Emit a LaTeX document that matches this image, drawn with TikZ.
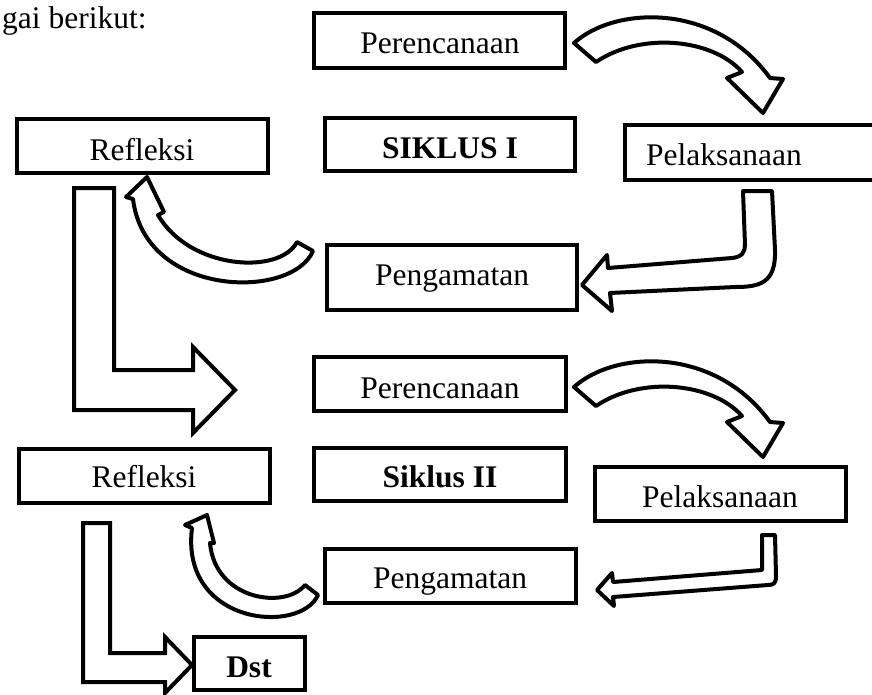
\documentclass[tikz,border=0pt]{standalone}
\usepackage{fontspec}
\setmainfont{Liberation Serif}
\begin{document}
\begin{tikzpicture}[x=1pt,y=-1pt,
  box/.style={draw, line width=4pt, rectangle, inner sep=0pt, outer sep=0pt},
  txt/.style={font=\fontsize{31.5}{36}\selectfont, inner sep=0pt, anchor=base},
  btxt/.style={txt, font=\fontsize{31.5}{36}\selectfont\bfseries},
  blockarrow/.style={draw, line width=4pt, fill=white, line join=round},
  sharparrow/.style={draw, line width=4pt, fill=white, line join=miter}]
\clip (0,0) rectangle (872,694);
\fill[white] (0,0) rectangle (872,694);

% header text
\node[txt, anchor=base west] (head) at (2,28) {gai berikut:};

% ---- block arrows (drawn first, boxes on top) ----
% Perencanaan I -> Pelaksanaan I
\path[blockarrow] (574,43) .. controls (615,6) and (715,2) .. (770,78) -- (783,79) -- (763,113)
  -- (727,78) -- (742,72) .. controls (712,38) and (640,32) .. (596,62) -- cycle;
% Pelaksanaan I -> Pengamatan I
\path[blockarrow] (743,191) -- (772,191) -- (775,250) .. controls (776,283) and (760,287) .. (735,287)
  -- (610,293) -- (612,311) -- (582,285) -- (607,255) -- (608,268) -- (732,258)
  .. controls (742,257) and (745,252) .. (745,245) -- cycle;
% Pengamatan I -> Refleksi I
\path[blockarrow] (297,242) -- (313,251) .. controls (292,300) and (145,298) .. (133,199)
  -- (126,197) -- (147,177) -- (164,212) -- (158,215) .. controls (190,270) and (280,275) .. (297,242) -- cycle;
% Refleksi I -> Perencanaan II
\path[sharparrow] (74,188) -- (114,188) -- (114,370) -- (193,370) -- (193,347) -- (235,390)
  -- (193,433) -- (193,410) -- (74,410) -- cycle;
% Perencanaan II -> Pelaksanaan II
\begin{scope}[shift={(0,344)}]
\path[blockarrow] (574,43) .. controls (615,6) and (715,2) .. (770,78) -- (783,79) -- (763,113)
  -- (727,78) -- (742,72) .. controls (712,38) and (640,32) .. (596,62) -- cycle;
\end{scope}
% Pelaksanaan II -> Pengamatan II
\path[blockarrow] (762,535) -- (775,535) -- (776,576) .. controls (776,583) and (774,585) .. (768,585)
  -- (613,597) -- (614,606) -- (597,590) -- (612,573) -- (613,582) -- (762,570) -- cycle;
% Pengamatan II -> Refleksi II
\path[blockarrow] (305,585) -- (318,595) .. controls (300,635) and (180,625) .. (192,528)
  -- (185,525) -- (207,515) -- (214,543) -- (210,543) .. controls (215,600) and (285,610) .. (305,585) -- cycle;
% Refleksi II -> Dst
\path[sharparrow] (83,523) -- (110,523) -- (110,653) -- (165,653) -- (165,637) -- (192,665)
  -- (165,693) -- (165,682) -- (83,682) -- cycle;

% ---- boxes ----
\node[box, minimum width=251pt, minimum height=55pt] (per1) at (439.5,40.5) {};
\node[box, minimum width=251pt, minimum height=54pt] (ref1) at (142.5,146) {};
\node[box, minimum width=250pt, minimum height=53pt] (sik1) at (450,144.5) {};
\node[box, minimum width=250pt, minimum height=65pt] (pen1) at (452,277.5) {};
\node[box, minimum width=265pt, minimum height=55pt] (pel1) at (757.5,152.5) {};
\node[box, minimum width=252pt, minimum height=54pt] (per2) at (440,384) {};
\node[box, minimum width=252pt, minimum height=53pt] (sik2) at (440,474.5) {};
\node[box, minimum width=251pt, minimum height=54pt] (pen2) at (450.5,576) {};
\node[box, minimum width=251pt, minimum height=54pt] (pel2) at (720.5,494) {};
\node[box, minimum width=251pt, minimum height=54pt] (ref2) at (144.5,476) {};
\node[box, minimum width=111pt, minimum height=53pt] (dst) at (249.5,663.5) {};

% ---- texts ----
\node[txt] (tper1) at (440,53) {Perencanaan};
\node[txt] (tref1) at (142,160) {Refleksi};
\node[btxt] (tsik1) at (450,158) {SIKLUS I};
\node[txt] (tpen1) at (452,285) {Pengamatan};
\node[txt] (tpel1) at (724,165) {Pelaksanaan};
\node[txt] (tper2) at (440,398) {Perencanaan};
\node[btxt] (tsik2) at (440,487) {Siklus II};
\node[txt] (tpen2) at (450,588) {Pengamatan};
\node[txt] (tpel2) at (720,507) {Pelaksanaan};
\node[txt] (tref2) at (144,487) {Refleksi};
\node[btxt] (tdst) at (249,677) {Dst};
\end{tikzpicture}
\end{document}
